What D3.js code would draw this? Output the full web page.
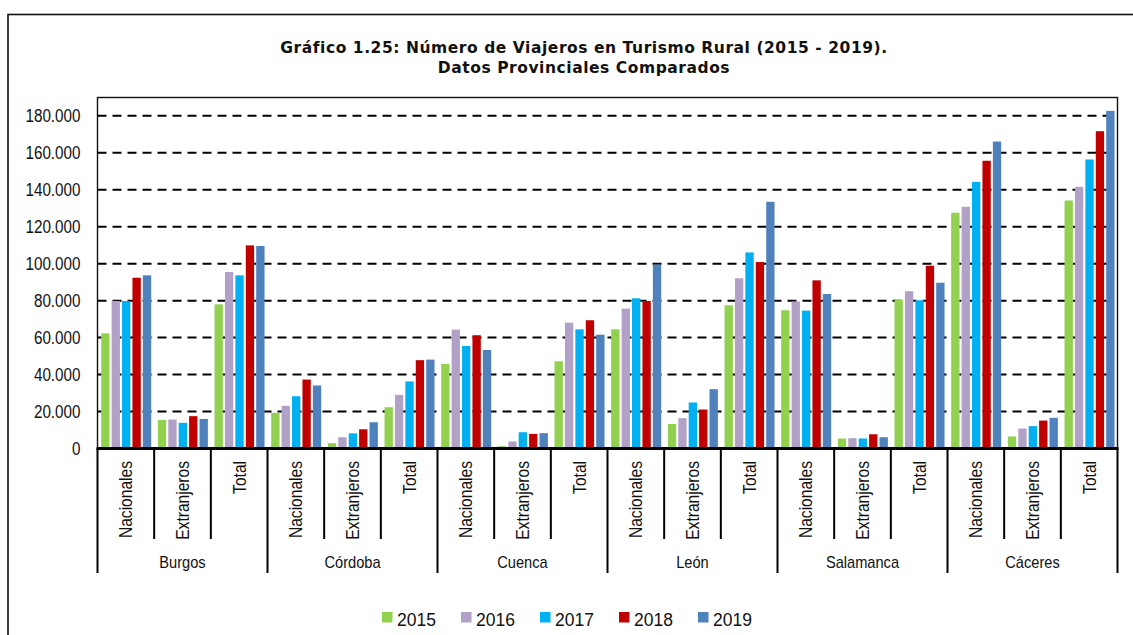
<!DOCTYPE html>
<html lang="es">
<head>
<meta charset="utf-8">
<title>Viajeros en Turismo Rural</title>
<script src="https://cdn.jsdelivr.net/npm/d3@7"></script>
<style>
  body { margin: 0; background: #fff; }
  .narrow { font-family: "Liberation Sans Narrow", "Arial Narrow", "Liberation Sans", Arial, sans-serif; }
</style>
</head>
<body>
<script>
// data
const provincias = ["Burgos", "Córdoba", "Cuenca", "León", "Salamanca", "Cáceres"];
const tipos = ["Nacionales", "Extranjeros", "Total"];
const years = ["2015", "2016", "2017", "2018", "2019"];
const colors = ["#92D050", "#B2A1C7", "#00B0F0", "#C00000", "#4F81BD"];
const yTicks = [0, 20000, 40000, 60000, 80000, 100000, 120000, 140000, 160000, 180000];

// one value per (provincia, tipo), in the order above
const v2015 = [62300, 15500, 78000, 19300, 2900, 22300, 45800, 1300, 47200, 64500, 13300, 77500, 74800, 5400, 80500, 127600, 6500, 134200];
const v2016 = [79800, 15700, 95500, 23100, 6100, 29000, 64300, 3800, 68100, 75700, 16400, 92100, 79500, 5600, 85100, 130800, 10800, 141600];
const v2017 = [79800, 13900, 93700, 28300, 8200, 36300, 55500, 8800, 64500, 81300, 24900, 106100, 74600, 5400, 80200, 144300, 12100, 156400];
const v2018 = [92400, 17500, 109900, 37300, 10400, 47800, 61300, 7900, 69400, 79800, 21100, 100900, 91000, 7700, 98900, 155700, 15100, 171700];
const v2019 = [93700, 16000, 109600, 34100, 14200, 48100, 53300, 8300, 61600, 99500, 32100, 133500, 83600, 6100, 89700, 166100, 16600, 182700];
const series = [v2015, v2016, v2017, v2018, v2019];

const w = 1133, h = 635;
const plotL = 97.5, plotR = 1117.5, plotT = 97.5, zeroY = 448.5;

const cats = [];
provincias.forEach(p => tipos.forEach(t => cats.push(p + "|" + t)));

const x = d3.scaleBand().domain(cats).range([plotL, plotR]).padding(0);
const xIn = d3.scaleBand().domain(years).range([3.7, 53.7]).paddingInner(0.2).paddingOuter(0);
const y = d3.scaleLinear().domain([0, 180000]).range([zeroY, zeroY - 9 * 36.96]);

const fmt = d3.formatLocale({ decimal: ",", thousands: ".", grouping: [3], currency: ["", ""] }).format(",d");

// squeeze text horizontally to look like a narrow face
function squeeze(sel, k) {
  sel.each(function () {
    const len = this.getComputedTextLength();
    this.setAttribute("textLength", len * k);
    this.setAttribute("lengthAdjust", "spacingAndGlyphs");
  });
}

const svg = d3.select("body").append("svg")
  .attr("width", w).attr("height", h);

// outer chart frame
svg.append("rect")
  .attr("x", 8).attr("y", 14.5).attr("width", 1300).attr("height", 800)
  .attr("fill", "none").attr("stroke", "#111").attr("stroke-width", 1.6);

// title
const title = svg.append("text")
  .attr("text-anchor", "middle")
  .attr("font-family", "DejaVu Sans, Verdana, sans-serif")
  .attr("font-weight", "bold").attr("font-size", 15.5)
  .attr("letter-spacing", 0.55).attr("fill", "#111");
title.append("tspan").attr("x", 584).attr("y", 53).text("Gráfico 1.25: Número de Viajeros en Turismo Rural (2015 - 2019).");
title.append("tspan").attr("x", 584).attr("y", 73).text("Datos Provinciales Comparados");

// plot border
svg.append("rect")
  .attr("x", plotL).attr("y", plotT).attr("width", plotR - plotL).attr("height", zeroY - plotT)
  .attr("fill", "none").attr("stroke", "#111").attr("stroke-width", 1.4);

// dashed gridlines
svg.append("g").selectAll("line")
  .data(yTicks.filter(d => d > 0))
  .join("line")
  .attr("x1", plotL).attr("x2", plotR)
  .attr("y1", d => y(d)).attr("y2", d => y(d))
  .attr("stroke", "#000").attr("stroke-width", 2)
  .attr("stroke-dasharray", "9,6");

// y axis labels
const yAxis = svg.append("g")
  .attr("class", "narrow")
  .attr("transform", "translate(" + plotL + ",0)")
  .call(d3.axisLeft(y).tickValues(yTicks).tickFormat(fmt).tickSize(0).tickPadding(17));
yAxis.select(".domain").remove();
yAxis.selectAll("text").attr("font-size", 17.5).attr("fill", "#111").attr("font-family", null);
squeeze(yAxis.selectAll("text"), 0.87);

// bars
const groups = svg.append("g").selectAll("g")
  .data(years)
  .join("g")
  .attr("fill", (d, i) => colors[i]);

groups.selectAll("rect")
  .data((yr, i) => series[i].map((v, j) => ({ cat: cats[j], yr: yr, v: v })))
  .join("rect")
  .attr("x", d => x(d.cat) + xIn(d.yr))
  .attr("width", xIn.bandwidth())
  .attr("y", d => y(d.v))
  .attr("height", d => zeroY - y(d.v));

// category axis
const xAxis = svg.append("g");
xAxis.append("line")
  .attr("x1", plotL - 1).attr("x2", plotR + 1)
  .attr("y1", zeroY).attr("y2", zeroY)
  .attr("stroke", "#000").attr("stroke-width", 3);

const bounds = cats.map(c => x(c)).concat([plotR]);
xAxis.selectAll("line.tick")
  .data(bounds)
  .join("line")
  .attr("class", "tick")
  .attr("x1", d => d).attr("x2", d => d)
  .attr("y1", zeroY)
  .attr("y2", (d, i) => i % 3 === 0 ? 573 : 539)
  .attr("stroke", "#000").attr("stroke-width", 2);

const catText = xAxis.selectAll("text.cat")
  .data(cats)
  .join("text")
  .attr("class", "cat narrow")
  .attr("transform", d => "translate(" + (x(d) + x.bandwidth() / 2 + 6.5) + ",461) rotate(-90)")
  .attr("text-anchor", "end")
  .attr("font-size", 19)
  .attr("fill", "#111")
  .text(d => d.split("|")[1]);
squeeze(catText, 0.82);

const provText = xAxis.selectAll("text.prov")
  .data(provincias)
  .join("text")
  .attr("class", "prov narrow")
  .attr("x", (d, i) => x(d + "|Extranjeros") + x.bandwidth() / 2)
  .attr("y", 568)
  .attr("text-anchor", "middle")
  .attr("font-size", 17)
  .attr("fill", "#111")
  .text(d => d);
squeeze(provText, 0.86);

// legend
const legend = svg.append("g").selectAll("g")
  .data(years)
  .join("g")
  .attr("transform", (d, i) => "translate(" + (382 + i * 79) + ",612)");
legend.append("rect")
  .attr("width", 10.5).attr("height", 10.5)
  .attr("fill", (d, i) => colors[i]);
legend.append("text")
  .attr("x", 15).attr("y", 14)
  .attr("font-family", "Liberation Sans, Arial, sans-serif")
  .attr("font-size", 17.5).attr("fill", "#111")
  .text(d => d);
</script>
</body>
</html>
